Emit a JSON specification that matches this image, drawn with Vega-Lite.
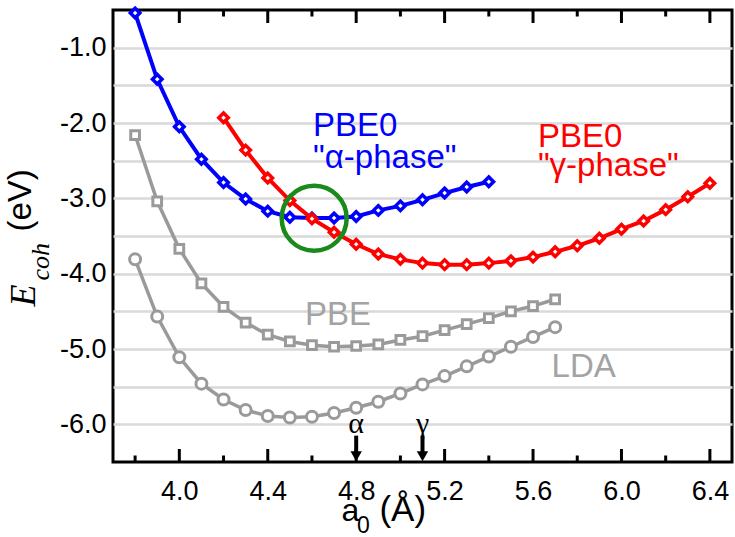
{
  "$schema": "https://vega.github.io/schema/vega-lite/v6.json",
  "width": 619,
  "height": 452,
  "autosize": {"type": "none"},
  "padding": {"left": 113, "top": 10, "right": 3, "bottom": 75},
  "background": "white",
  "config": {
    "view": {"stroke": "black", "strokeWidth": 3},
    "axis": {"labelFont": "Liberation Sans", "labelFontSize": 27, "labelColor": "black", "domain": false, "title": null, "grid": false, "labelFlush": false, "ticks": false}
  },
  "datasets": {
    "curves": [
      {"s": "PBE0a", "a": 3.8, "E": -0.54}, {"s": "PBE0a", "a": 3.9, "E": -1.42}, {"s": "PBE0a", "a": 4.0, "E": -2.05},
      {"s": "PBE0a", "a": 4.1, "E": -2.48}, {"s": "PBE0a", "a": 4.2, "E": -2.79}, {"s": "PBE0a", "a": 4.3, "E": -3.01},
      {"s": "PBE0a", "a": 4.4, "E": -3.17}, {"s": "PBE0a", "a": 4.5, "E": -3.25}, {"s": "PBE0a", "a": 4.6, "E": -3.26},
      {"s": "PBE0a", "a": 4.7, "E": -3.26}, {"s": "PBE0a", "a": 4.8, "E": -3.24}, {"s": "PBE0a", "a": 4.9, "E": -3.16},
      {"s": "PBE0a", "a": 5.0, "E": -3.10}, {"s": "PBE0a", "a": 5.1, "E": -3.02}, {"s": "PBE0a", "a": 5.2, "E": -2.93},
      {"s": "PBE0a", "a": 5.3, "E": -2.85}, {"s": "PBE0a", "a": 5.4, "E": -2.78},
      {"s": "PBE0g", "a": 4.2, "E": -1.93}, {"s": "PBE0g", "a": 4.3, "E": -2.36}, {"s": "PBE0g", "a": 4.4, "E": -2.73},
      {"s": "PBE0g", "a": 4.5, "E": -3.03}, {"s": "PBE0g", "a": 4.6, "E": -3.27}, {"s": "PBE0g", "a": 4.7, "E": -3.45},
      {"s": "PBE0g", "a": 4.8, "E": -3.61}, {"s": "PBE0g", "a": 4.9, "E": -3.74}, {"s": "PBE0g", "a": 5.0, "E": -3.81},
      {"s": "PBE0g", "a": 5.1, "E": -3.86}, {"s": "PBE0g", "a": 5.2, "E": -3.88}, {"s": "PBE0g", "a": 5.3, "E": -3.88},
      {"s": "PBE0g", "a": 5.4, "E": -3.86}, {"s": "PBE0g", "a": 5.5, "E": -3.83}, {"s": "PBE0g", "a": 5.6, "E": -3.78},
      {"s": "PBE0g", "a": 5.7, "E": -3.71}, {"s": "PBE0g", "a": 5.8, "E": -3.63}, {"s": "PBE0g", "a": 5.9, "E": -3.53},
      {"s": "PBE0g", "a": 6.0, "E": -3.41}, {"s": "PBE0g", "a": 6.1, "E": -3.30}, {"s": "PBE0g", "a": 6.2, "E": -3.15},
      {"s": "PBE0g", "a": 6.3, "E": -2.98}, {"s": "PBE0g", "a": 6.4, "E": -2.80},
      {"s": "PBE", "a": 3.8, "E": -2.16}, {"s": "PBE", "a": 3.9, "E": -3.04}, {"s": "PBE", "a": 4.0, "E": -3.67},
      {"s": "PBE", "a": 4.1, "E": -4.13}, {"s": "PBE", "a": 4.2, "E": -4.44}, {"s": "PBE", "a": 4.3, "E": -4.65},
      {"s": "PBE", "a": 4.4, "E": -4.81}, {"s": "PBE", "a": 4.5, "E": -4.90}, {"s": "PBE", "a": 4.6, "E": -4.95},
      {"s": "PBE", "a": 4.7, "E": -4.97}, {"s": "PBE", "a": 4.8, "E": -4.96}, {"s": "PBE", "a": 4.9, "E": -4.94},
      {"s": "PBE", "a": 5.0, "E": -4.88}, {"s": "PBE", "a": 5.1, "E": -4.83}, {"s": "PBE", "a": 5.2, "E": -4.75},
      {"s": "PBE", "a": 5.3, "E": -4.67}, {"s": "PBE", "a": 5.4, "E": -4.59}, {"s": "PBE", "a": 5.5, "E": -4.50},
      {"s": "PBE", "a": 5.6, "E": -4.43}, {"s": "PBE", "a": 5.7, "E": -4.34},
      {"s": "LDA", "a": 3.8, "E": -3.81}, {"s": "LDA", "a": 3.9, "E": -4.57}, {"s": "LDA", "a": 4.0, "E": -5.11},
      {"s": "LDA", "a": 4.1, "E": -5.46}, {"s": "LDA", "a": 4.2, "E": -5.67}, {"s": "LDA", "a": 4.3, "E": -5.81},
      {"s": "LDA", "a": 4.4, "E": -5.89}, {"s": "LDA", "a": 4.5, "E": -5.91}, {"s": "LDA", "a": 4.6, "E": -5.90},
      {"s": "LDA", "a": 4.7, "E": -5.85}, {"s": "LDA", "a": 4.8, "E": -5.78}, {"s": "LDA", "a": 4.9, "E": -5.70},
      {"s": "LDA", "a": 5.0, "E": -5.59}, {"s": "LDA", "a": 5.1, "E": -5.47}, {"s": "LDA", "a": 5.2, "E": -5.36},
      {"s": "LDA", "a": 5.3, "E": -5.23}, {"s": "LDA", "a": 5.4, "E": -5.10}, {"s": "LDA", "a": 5.5, "E": -4.97},
      {"s": "LDA", "a": 5.6, "E": -4.84}, {"s": "LDA", "a": 5.7, "E": -4.71}
    ]
  },
  "encoding": {
    "x": {"field": "a", "type": "quantitative", "scale": {"domain": [3.7, 6.5], "nice": false, "zero": false}, "axis": null},
    "y": {"field": "E", "type": "quantitative", "scale": {"domain": [-6.5, -0.5], "nice": false, "zero": false}, "axis": null}
  },
  "resolve": {"axis": {"x": "independent", "y": "independent"}},
  "layer": [
    {
      "data": {"name": "curves"},
      "transform": [{"filter": "datum.s === 'PBE' || datum.s === 'LDA'"}],
      "mark": {"type": "line", "color": "#9a9a9a", "strokeWidth": 3.5},
      "encoding": {
        "x": {"field": "a", "type": "quantitative", "scale": {"domain": [3.7, 6.5], "nice": false, "zero": false},
              "axis": {"orient": "bottom", "values": [4.0, 4.4, 4.8, 5.2, 5.6, 6.0, 6.4], "format": ".1f", "labelPadding": 16}},
        "y": {"field": "E", "type": "quantitative", "scale": {"domain": [-6.5, -0.5], "nice": false, "zero": false},
              "axis": {"orient": "left", "values": [-6, -5.5, -5, -4.5, -4, -3.5, -3, -2.5, -2, -1.5, -1], "grid": true, "gridColor": "#d9d9d9", "gridWidth": 2.5, "labelPadding": 7,
                       "labelExpr": "datum.value % 1 == 0 ? '-' + format(abs(datum.value), '.1f') : ''"}},
        "detail": {"field": "s"}
      }
    },
    {
      "data": {"values": [
        {"a": 4.0, "E": -6.414}, {"a": 4.4, "E": -6.414}, {"a": 4.8, "E": -6.414}, {"a": 5.2, "E": -6.414},
        {"a": 5.6, "E": -6.414}, {"a": 6.0, "E": -6.414}, {"a": 6.4, "E": -6.414},
        {"a": 4.0, "E": -0.586}, {"a": 4.4, "E": -0.586}, {"a": 4.8, "E": -0.586}, {"a": 5.2, "E": -0.586},
        {"a": 5.6, "E": -0.586}, {"a": 6.0, "E": -0.586}, {"a": 6.4, "E": -0.586}
      ]},
      "mark": {"type": "tick", "orient": "vertical", "size": 13, "thickness": 3, "color": "black", "opacity": 1}
    },
    {
      "data": {"values": [
        {"a": 3.8, "E": -6.46}, {"a": 4.2, "E": -6.46}, {"a": 4.6, "E": -6.46}, {"a": 5.0, "E": -6.46},
        {"a": 5.4, "E": -6.46}, {"a": 5.8, "E": -6.46}, {"a": 6.2, "E": -6.46},
        {"a": 3.8, "E": -0.54}, {"a": 4.2, "E": -0.54}, {"a": 4.6, "E": -0.54}, {"a": 5.0, "E": -0.54},
        {"a": 5.4, "E": -0.54}, {"a": 5.8, "E": -0.54}, {"a": 6.2, "E": -0.54}
      ]},
      "mark": {"type": "tick", "orient": "vertical", "size": 7, "thickness": 3, "color": "black", "opacity": 1}
    },
    {
      "data": {"name": "curves"},
      "transform": [{"filter": "datum.s === 'PBE'"}],
      "mark": {"type": "point", "shape": "square", "size": 76, "fill": "white", "stroke": "#9a9a9a", "strokeWidth": 3, "opacity": 1, "fillOpacity": 1}
    },
    {
      "data": {"name": "curves"},
      "transform": [{"filter": "datum.s === 'LDA'"}],
      "mark": {"type": "point", "shape": "circle", "size": 121, "fill": "white", "stroke": "#9a9a9a", "strokeWidth": 3, "opacity": 1, "fillOpacity": 1}
    },
    {
      "data": {"name": "curves"},
      "transform": [{"filter": "datum.s === 'PBE0a'"}],
      "mark": {"type": "line", "color": "#0000ff", "strokeWidth": 4}
    },
    {
      "data": {"name": "curves"},
      "transform": [{"filter": "datum.s === 'PBE0a'"}],
      "mark": {"type": "point", "shape": "diamond", "size": 90, "fill": "white", "stroke": "#0000ff", "strokeWidth": 3.5, "opacity": 1, "fillOpacity": 1}
    },
    {
      "data": {"name": "curves"},
      "transform": [{"filter": "datum.s === 'PBE0g'"}],
      "mark": {"type": "line", "color": "#ff0000", "strokeWidth": 4}
    },
    {
      "data": {"name": "curves"},
      "transform": [{"filter": "datum.s === 'PBE0g'"}],
      "mark": {"type": "point", "shape": "diamond", "size": 90, "fill": "white", "stroke": "#ff0000", "strokeWidth": 3.5, "opacity": 1, "fillOpacity": 1}
    },
    {
      "data": {"values": [{"a": 4.61, "E": -3.265}]},
      "mark": {"type": "point", "shape": "circle", "size": 4225, "filled": false, "color": "#1a8a1a", "strokeWidth": 4.5, "opacity": 1}
    },
    {
      "data": {"values": [{"a": 4.605, "E": -2.17, "t": "PBE0"}, {"a": 4.605, "E": -2.6, "t": "\"α-phase\""}]},
      "mark": {"type": "text", "font": "Liberation Sans", "fontSize": 33, "align": "left", "baseline": "alphabetic", "color": "#0000ff"},
      "encoding": {"text": {"field": "t"}}
    },
    {
      "data": {"values": [{"a": 5.622, "E": -2.317, "t": "PBE0"}, {"a": 5.622, "E": -2.71, "t": "\"γ-phase\""}]},
      "mark": {"type": "text", "font": "Liberation Sans", "fontSize": 33, "align": "left", "baseline": "alphabetic", "color": "#ff0000"},
      "encoding": {"text": {"field": "t"}}
    },
    {
      "data": {"values": [{"a": 4.568, "E": -4.678, "t": "PBE"}, {"a": 5.684, "E": -5.367, "t": "LDA"}]},
      "mark": {"type": "text", "font": "Liberation Sans", "fontSize": 33, "align": "left", "baseline": "alphabetic", "color": "#a3a3a3"},
      "encoding": {"text": {"field": "t"}}
    },
    {
      "data": {"values": [{"a": 4.8, "E": -6.114, "t": "α"}, {"a": 5.1, "E": -6.114, "t": "γ"}]},
      "mark": {"type": "text", "font": "Liberation Serif", "fontSize": 30, "align": "center", "baseline": "alphabetic", "color": "black"},
      "encoding": {"text": {"field": "t"}}
    },
    {
      "data": {"values": [{"a": 4.8, "E": -6.15, "E2": -6.39}, {"a": 5.1, "E": -6.15, "E2": -6.39}]},
      "mark": {"type": "rule", "color": "black", "strokeWidth": 4},
      "encoding": {"y2": {"field": "E2"}}
    },
    {
      "data": {"values": [{"a": 4.8, "E": -6.424}, {"a": 5.1, "E": -6.424}]},
      "mark": {"type": "point", "shape": "triangle-down", "size": 130, "filled": true, "color": "black", "opacity": 1, "strokeWidth": 0}
    },
    {
      "data": {"values": [{"a": 3.345, "E": -4.29, "t": "E"}]},
      "mark": {"type": "text", "font": "Liberation Serif", "fontStyle": "italic", "fontSize": 36, "align": "center", "baseline": "alphabetic", "angle": 270, "color": "black"},
      "encoding": {"text": {"field": "t"}}
    },
    {
      "data": {"values": [{"a": 3.41, "E": -3.842, "t": "coh"}]},
      "mark": {"type": "text", "font": "Liberation Serif", "fontStyle": "italic", "fontSize": 26, "align": "center", "baseline": "alphabetic", "angle": 270, "color": "black"},
      "encoding": {"text": {"field": "t"}}
    },
    {
      "data": {"values": [{"a": 3.33, "E": -3.027, "t": "(eV)"}]},
      "mark": {"type": "text", "font": "Liberation Sans", "fontSize": 33, "align": "center", "baseline": "alphabetic", "angle": 270, "color": "black"},
      "encoding": {"text": {"field": "t"}}
    },
    {
      "data": {"values": [{"a": 4.734, "E": -7.284, "t": "a"}]},
      "mark": {"type": "text", "font": "Liberation Sans", "fontSize": 32, "align": "left", "baseline": "alphabetic", "color": "black"},
      "encoding": {"text": {"field": "t"}}
    },
    {
      "data": {"values": [{"a": 4.905, "E": -7.284, "t": "(Å)"}]},
      "mark": {"type": "text", "font": "Liberation Sans", "fontSize": 35, "align": "left", "baseline": "alphabetic", "color": "black"},
      "encoding": {"text": {"field": "t"}}
    },
    {
      "data": {"values": [{"a": 4.804, "E": -7.44, "t": "0"}]},
      "mark": {"type": "text", "font": "Liberation Sans", "fontSize": 23, "align": "left", "baseline": "alphabetic", "color": "black"},
      "encoding": {"text": {"field": "t"}}
    }
  ]
}
